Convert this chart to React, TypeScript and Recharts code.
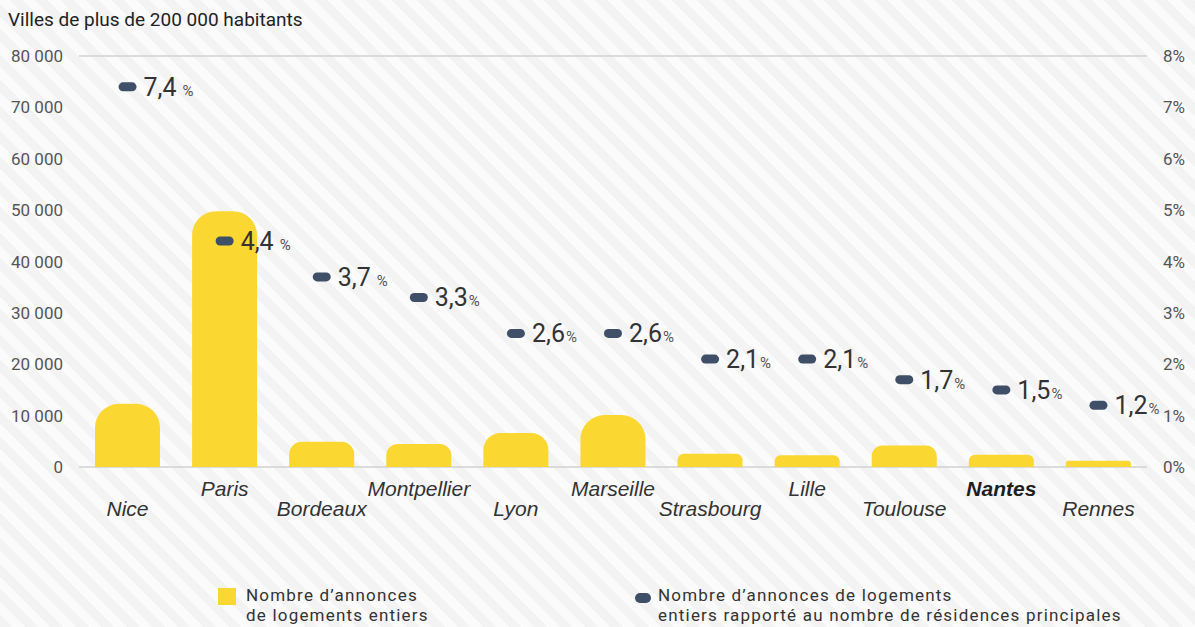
import React from 'react';
import { ComposedChart, Bar, Line, XAxis, YAxis, CartesianGrid } from 'recharts';

const cities = ['Nice', 'Paris', 'Bordeaux', 'Montpellier', 'Lyon', 'Marseille', 'Strasbourg', 'Lille', 'Toulouse', 'Nantes', 'Rennes'];
const listings = [12300, 49800, 4900, 4500, 6600, 10100, 2600, 2300, 4200, 2400, 1200];
const shares = [7.4, 4.4, 3.7, 3.3, 2.6, 2.6, 2.1, 2.1, 1.7, 1.5, 1.2];
const spacedPct = [true, true, true, false, false, false, false, false, false, false, false];
const leftTicks = [0, 10000, 20000, 30000, 40000, 50000, 60000, 70000, 80000];
const rightTicks = [0, 1, 2, 3, 4, 5, 6, 7, 8];

const data = cities.map((city, i) => ({ city, listings: listings[i], share: shares[i], spaced: spacedPct[i] }));

const font = 'Roboto, "Open Sans", sans-serif';
const yellow = '#fbd731';
const navy = '#3e4f67';

const fmtThousands = (v: number) => (v === 0 ? '0' : `${Math.floor(v / 1000)} 000`);

const CityTick = (props: any) => {
  const { x, y, payload, index } = props;
  const dy = index % 2 === 0 ? 41 : 21;
  const bold = payload.value === 'Nantes';
  return (
    <text x={x} y={y + dy} textAnchor="middle" fill={bold ? '#1f1f1f' : '#333'}
      style={{ fontFamily: '"Liberation Sans", sans-serif', fontStyle: 'italic', fontSize: 21, fontWeight: bold ? 700 : 400 }}>
      {payload.value}
    </text>
  );
};

const Pill = (props: any) => {
  const { cx, cy, payload, index } = props;
  if (cx == null || cy == null) return null;
  const txt = payload.share.toFixed(1).replace('.', ',');
  return (
    <g key={`pill-${index}`}>
      <rect x={cx - 9} y={cy - 4.5} width={18} height={9} rx={4.5} fill={navy} />
      <text x={cx + 16} y={cy + 9} fill="#333" style={{ fontFamily: font }}>
        <tspan fontSize={25}>{txt}</tspan>
        <tspan fontSize={15} fill="#555" dx={payload.spaced ? 6 : 1}>%</tspan>
      </text>
    </g>
  );
};

const legendText: React.CSSProperties = {
  position: 'absolute', fontSize: 17, lineHeight: '20px', letterSpacing: 1.2, color: '#333', whiteSpace: 'nowrap',
};

const App: React.FC = () => {
  return (
    <div style={{
      position: 'absolute', left: 0, top: 0, width: 1195, height: 627, overflow: 'hidden',
      background: 'repeating-linear-gradient(45deg, #f3f3f3 0px, #f3f3f3 9px, #fbfbfb 9px, #fbfbfb 18px)',
      fontFamily: font,
    }}>
      <div style={{ position: 'absolute', left: 8, top: 8, fontSize: 19, color: '#222' }}>
        Villes de plus de 200 000 habitants
      </div>
      <ComposedChart width={1195} height={627} data={data} margin={{ top: 56, right: 0, bottom: 100, left: 0 }}>
        <CartesianGrid vertical={false} stroke="#d2d2d2" strokeWidth={1.5} />
        <XAxis dataKey="city" axisLine={false} tickLine={false} interval={0} height={60} tick={<CityTick />} />
        <YAxis yAxisId="l" domain={[0, 80000]} ticks={leftTicks} width={79} axisLine={false} tickLine={false}
          tickSize={0} tickMargin={16} tickFormatter={fmtThousands}
          tick={{ fill: '#555', fontSize: 17, fontFamily: font }} />
        <YAxis yAxisId="r" orientation="right" domain={[0, 8]} ticks={rightTicks} width={48} axisLine={false}
          tickLine={false} tickSize={0} tickMargin={16} tickFormatter={(v: number) => `${v}%`}
          tick={{ fill: '#555', fontSize: 17, fontFamily: font, textAnchor: 'start' }} />
        <Bar yAxisId="l" dataKey="listings" fill={yellow} barSize={65} radius={[24, 24, 0, 0]} isAnimationActive={false} />
        <Line yAxisId="r" dataKey="share" stroke="none" dot={<Pill />} activeDot={false} isAnimationActive={false} />
      </ComposedChart>
      <div style={{ position: 'absolute', left: 218, top: 588, width: 18, height: 17, background: yellow }} />
      <div style={{ ...legendText, left: 246, top: 585 }}>Nombre d’annonces</div>
      <div style={{ ...legendText, left: 246, top: 605 }}>de logements entiers</div>
      <div style={{ position: 'absolute', left: 635, top: 593, width: 16, height: 10, borderRadius: 5, background: navy }} />
      <div style={{ ...legendText, left: 658, top: 585 }}>Nombre d’annonces de logements</div>
      <div style={{ ...legendText, left: 658, top: 605 }}>entiers rapporté au nombre de résidences principales</div>
    </div>
  );
};

export default App;
